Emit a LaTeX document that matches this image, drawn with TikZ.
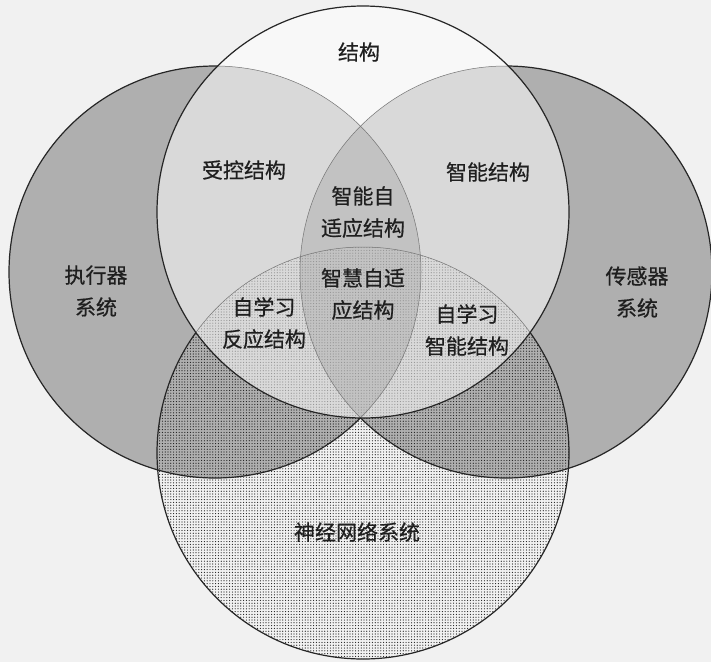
\documentclass[tikz,border=0pt]{standalone}
\usepackage{fontspec}
\newfontfamily\cjk[FakeBold=0.6]{Noto Sans CJK SC}
\usetikzlibrary{patterns.meta}
\definecolor{bg}{gray}{0.945}
\definecolor{txt}{gray}{0.12}
\begin{document}
\begin{tikzpicture}[x=1pt,y=-1pt,
  lbl/.style={font=\cjk\fontsize{21}{32}\selectfont, text=txt, align=center, inner sep=0pt},
  outerline/.style={line width=1.2pt, draw=black!85},
  innerline/.style={line width=0.5pt, draw=black!55},
  shade/.style={fill=black, fill opacity=0.27},
  veil/.style={fill=white, fill opacity=0.53},
  dotty/.style={pattern={Dots[distance=2.8pt, radius=0.6pt]}, pattern color=black!90}]
\useasboundingbox (0,0) rectangle (711,662);
\fill[bg] (0,0) rectangle (711,662);
\def\rad{206pt}
\coordinate (cT) at (363,212);
\coordinate (cL) at (215,272);
\coordinate (cR) at (506,272);
\coordinate (cB) at (363,453);
% fills
\fill[shade] (cL) circle[radius=\rad];
\fill[shade] (cR) circle[radius=\rad];
\fill[dotty] (cB) circle[radius=\rad];
% outlines outside the top circle
\begin{scope}[even odd rule]
  \clip (0,0) rectangle (711,662) (cT) circle[radius=\rad];
  \draw[outerline] (cL) circle[radius=\rad];
  \draw[outerline] (cR) circle[radius=\rad];
  \draw[outerline] (cB) circle[radius=\rad];
\end{scope}
% top circle veil
\fill[veil] (cT) circle[radius=\rad];
\begin{scope}
  \clip (cT) circle[radius=\rad];
  \draw[innerline] (cL) circle[radius=\rad];
  \draw[innerline] (cR) circle[radius=\rad];
  \draw[innerline] (cB) circle[radius=\rad];
\end{scope}
\draw[outerline] (cT) circle[radius=\rad];
% labels
\node[lbl] (jiegou) at (359,52) {结构};
\node[lbl] (shoukong) at (244,170) {受控结构};
\node[lbl] (zhineng) at (488,172) {智能结构};
\node[lbl] (zsy) at (363,212) {智能自\\适应结构};
\node[lbl] (zhsy) at (363,294) {智慧自适\\应结构};
\node[lbl] (fanying) at (264,323) {自学习\\反应结构};
\node[lbl] (xxzn) at (467,330) {自学习\\智能结构};
\node[lbl] (zhixing) at (96,291) {执行器\\系统};
\node[lbl] (chuangan) at (637,292) {传感器\\系统};
\node[lbl] (shenjing) at (357,532) {神经网络系统};
\end{tikzpicture}
\end{document}
